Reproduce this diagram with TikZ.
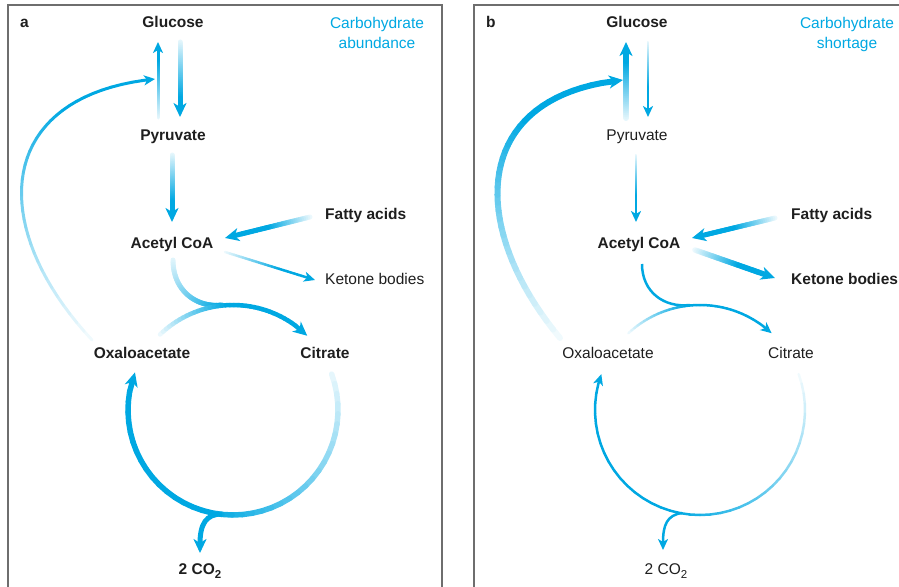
\documentclass[tikz,border=0pt]{standalone}
\usepackage{fontspec}
\setmainfont{Liberation Sans}
\usetikzlibrary{arrows.meta}
\definecolor{pathblue}{RGB}{0,168,226}
\definecolor{framegray}{RGB}{110,110,110}
\definecolor{inktext}{RGB}{30,30,30}

\tikzset{
  metab/.style={font=\fontsize{15.5}{18}\selectfont, text=inktext, inner sep=0pt, anchor=base},
  metabbold/.style={metab, font=\fontsize{15.5}{18}\selectfont\bfseries},
  condition/.style={font=\fontsize{15.5}{20}\selectfont, text=pathblue, inner sep=0pt, align=center, anchor=north},
  bigtip/.style={-{Stealth[length=14pt,width=13pt,inset=4pt]}},
  smalltip/.style={-{Stealth[length=11pt,width=10pt,inset=3pt]}},
  panelframe/.style={draw=framegray, line width=1.2pt}
}

% subscript for CO2
\newcommand{\lowsub}[1]{\raisebox{-0.28em}{\fontsize{11.5}{12}\selectfont #1}}

% points fp0..fp40 along one path segment
\newcommand{\curvepts}[1]{%
  \path #1 \foreach \k [evaluate=\k as \t using \k/40] in {0,...,40} {coordinate[pos=\t] (fp\k)};}
% points fp0..fp40 along a circle arc: cx, cy, r, from, to
\newcommand{\arcpts}[5]{%
  \foreach \k [evaluate=\k as \ang using #4+(#5-#4)*\k/40] in {0,...,40}
    {\coordinate (fp\k) at ({#1+#3*cos(\ang)},{#2+#3*sin(\ang)});}}
% stroke through fp0..fp40: width, first shade, index of full shade, index of tip, tip style
\newcommand{\fadedraw}[5]{%
  \pgfmathtruncatemacro\lastk{#4-1}
  \foreach \k in {0,...,\lastk}{
    \pgfmathsetmacro\shd{#2+(100-#2)*min(1,\k/#3)}
    \pgfmathtruncatemacro\kk{\k+1}
    \draw[line width=#1, pathblue!\shd!white, line cap=round] (fp\k) -- (fp\kk);
  }
  \draw[line width=#1, pathblue, #5] (fp#4) -- (fp40);}

\begin{document}
\begin{tikzpicture}[x=1pt, y=-1pt]
  \useasboundingbox (0,0) rectangle (899,586);
  \clip (0,0) rectangle (899,586);

  \draw[panelframe] (8,5) rectangle (442,600);
  \draw[panelframe] (474,5) rectangle (912,600);

  % carbohydrate abundance
  \node[metabbold, anchor=base west] (tagA) at (20,28) {a};
  \node[condition] (condA) at (377,17) {Carbohydrate\\abundance};
  \node[metabbold] (glucA) at (173,28) {Glucose};
  \node[metabbold] (pyrA) at (173,140) {Pyruvate};
  \node[metabbold] (acoaA) at (172,248) {Acetyl CoA};
  \node[metabbold, anchor=base west] (fattyA) at (325,219) {Fatty acids};
  \node[metab, anchor=base west] (ketoA) at (325,284) {Ketone bodies};
  \node[metabbold] (oxaA) at (142,358) {Oxaloacetate};
  \node[metabbold] (citA) at (325,358) {Citrate};
  \node[metabbold] (coA) at (200,574) {2 CO\lowsub{2}};

  \curvepts{(158,118) -- (158,42)}
  \fadedraw{3pt}{10}{30}{34}{smalltip}
  \curvepts{(180,42) -- (180,117)}
  \fadedraw{5pt}{10}{30}{32}{bigtip}
  \curvepts{(172,155) -- (172,222)}
  \fadedraw{5pt}{10}{28}{31}{bigtip}
  \curvepts{(310,217) -- (225,238)}
  \fadedraw{5pt}{8}{20}{33}{bigtip}
  \curvepts{(225,252) -- (315,280)}
  \fadedraw{2.5pt}{8}{24}{35}{smalltip}
  \curvepts{(173,260) .. controls (173,292) and (198,308) .. (222,305)}
  \fadedraw{5pt}{12}{40}{40}{}
  \arcpts{233}{410}{105}{226}{315}
  \fadedraw{4.5pt}{8}{18}{36}{bigtip}
  \arcpts{233}{410}{105}{-20}{201}
  \fadedraw{5.5pt}{10}{22}{38}{bigtip}
  \draw[line width=5pt, pathblue, bigtip] (222,514) .. controls (206,514) and (200,524) .. (200,553);
  \curvepts{(92,340) .. controls (-15,225) and (-5,95) .. (155,79)}
  \fadedraw{3pt}{6}{30}{39}{smalltip}

  % carbohydrate shortage
  \begin{scope}[xshift=466pt]
    \node[metabbold, anchor=base west] (tagB) at (20,28) {b};
    \node[condition] (condB) at (381,17) {Carbohydrate\\shortage};
    \node[metabbold] (glucB) at (171,28) {Glucose};
    \node[metab] (pyrB) at (171,140) {Pyruvate};
    \node[metabbold] (acoaB) at (173,248) {Acetyl CoA};
    \node[metabbold, anchor=base west] (fattyB) at (325,219) {Fatty acids};
    \node[metabbold, anchor=base west] (ketoB) at (325,284) {Ketone bodies};
    \node[metab] (oxaB) at (142,358) {Oxaloacetate};
    \node[metab] (citB) at (325,358) {Citrate};
    \node[metab] (coB) at (200,574) {2 CO\lowsub{2}};

    \curvepts{(160,118) -- (160,42)}
    \fadedraw{6pt}{10}{30}{32}{bigtip}
    \curvepts{(182,42) -- (182,117)}
    \fadedraw{2pt}{10}{24}{34}{smalltip}
    \curvepts{(170,155) -- (170,222)}
    \fadedraw{2pt}{10}{24}{33}{smalltip}
    \curvepts{(309,218) -- (226,238)}
    \fadedraw{5pt}{8}{20}{33}{bigtip}
    \curvepts{(229,250) -- (309,278)}
    \fadedraw{5.5pt}{8}{22}{33}{bigtip}
    \draw[line width=2.5pt, pathblue] (176,264) .. controls (176,292) and (198,308) .. (224,305);
    \arcpts{234}{410}{105}{227}{313}
    \fadedraw{2.5pt}{8}{16}{37}{smalltip}
    \arcpts{234}{410}{105}{-20}{200}
    \fadedraw{2.5pt}{6}{22}{39}{smalltip}
    \draw[line width=2.5pt, pathblue, smalltip] (216,513) .. controls (201,515) and (197,525) .. (197,550);
    \curvepts{(94,338) .. controls (0,225) and (5,95) .. (157,80)}
    \fadedraw{6pt}{6}{28}{38}{bigtip}
  \end{scope}
\end{tikzpicture}
\end{document}
